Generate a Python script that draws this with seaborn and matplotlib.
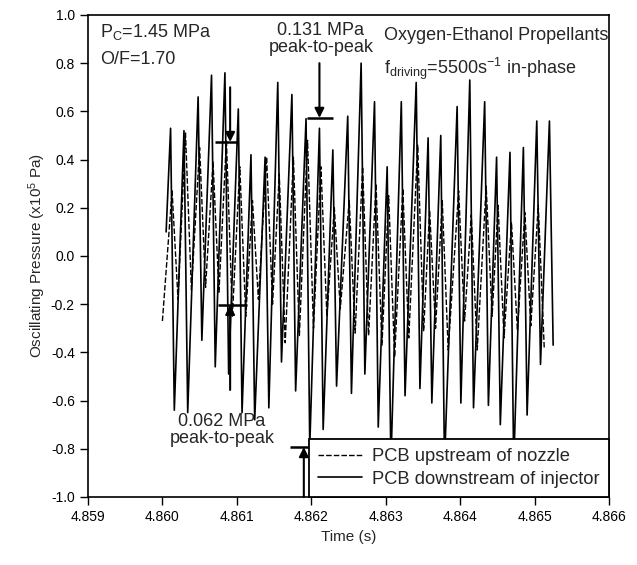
import numpy as np
import pandas as pd
import matplotlib
matplotlib.use("Agg")
import matplotlib.pyplot as plt
import seaborn as sns

# downstream of injector (solid) - peaks and the troughs right after them
solid_start_t = 4.86005
solid_start_p = 0.10
solid_peak_t = [4.86011, 4.86029, 4.86048, 4.86066, 4.86084, 4.86102, 4.86119, 4.86138,
                4.86155, 4.86174, 4.86193, 4.86211, 4.86229, 4.86249, 4.86267, 4.86285,
                4.86302, 4.86321, 4.86341, 4.86357, 4.86374, 4.86396, 4.86413, 4.86433,
                4.86449, 4.86467, 4.86485, 4.86503, 4.86520]
solid_peak_p = [0.53, 0.52, 0.66, 0.75, 0.76, 0.61, 0.42, 0.41, 0.72, 0.67, 0.57, 0.53,
                0.44, 0.58, 0.80, 0.64, 0.37, 0.64, 0.72, 0.49, 0.50, 0.62, 0.73, 0.64,
                0.41, 0.43, 0.45, 0.56, 0.56]
solid_trough_t = [4.86016, 4.86034, 4.86053, 4.86071, 4.86089, 4.86107, 4.86124, 4.86143,
                  4.86160, 4.86179, 4.86198, 4.86216, 4.86234, 4.86254, 4.86272, 4.86290,
                  4.86307, 4.86326, 4.86346, 4.86362, 4.86379, 4.86401, 4.86418, 4.86438,
                  4.86454, 4.86472, 4.86490, 4.86508, 4.86525]
solid_trough_p = [-0.64, -0.65, -0.35, -0.46, -0.49, -0.65, -0.68, -0.63, -0.44, -0.56,
                  -0.79, -0.72, -0.54, -0.57, -0.49, -0.71, -0.86, -0.58, -0.55, -0.61,
                  -0.86, -0.61, -0.63, -0.62, -0.70, -0.87, -0.66, -0.45, -0.37]

# upstream of nozzle (dashed)
dash_start_t = 4.86000
dash_start_p = -0.27
dash_peak_t = [4.86013, 4.86031, 4.86050, 4.86068, 4.86086, 4.86104, 4.86121, 4.86140,
               4.86157, 4.86176, 4.86195, 4.86213, 4.86231, 4.86251, 4.86269, 4.86287,
               4.86304, 4.86323, 4.86343, 4.86359, 4.86376, 4.86398, 4.86415, 4.86435,
               4.86451, 4.86469, 4.86487, 4.86505]
dash_peak_p = [0.27, 0.51, 0.45, 0.39, 0.48, 0.37, 0.23, 0.41, 0.34, 0.41, 0.48, 0.37,
               0.20, 0.23, 0.37, 0.30, 0.25, 0.28, 0.46, 0.19, 0.23, 0.27, 0.17, 0.29,
               0.21, 0.14, 0.18, 0.21]
dash_trough_t = [4.86021, 4.86039, 4.86058, 4.86076, 4.86094, 4.86112, 4.86129, 4.86148,
                 4.86165, 4.86184, 4.86203, 4.86221, 4.86239, 4.86259, 4.86277, 4.86295,
                 4.86312, 4.86331, 4.86351, 4.86367, 4.86384, 4.86406, 4.86423, 4.86443,
                 4.86459, 4.86477, 4.86495, 4.86513]
dash_trough_p = [-0.18, -0.14, -0.13, -0.15, -0.25, -0.25, -0.18, -0.20, -0.36, -0.33,
                 -0.30, -0.25, -0.22, -0.32, -0.33, -0.37, -0.42, -0.34, -0.31, -0.30,
                 -0.39, -0.27, -0.39, -0.25, -0.34, -0.31, -0.29, -0.38]

x_ticks = [4.859, 4.860, 4.861, 4.862, 4.863, 4.864, 4.865, 4.866]
y_ticks = [-1.0, -0.8, -0.6, -0.4, -0.2, 0.0, 0.2, 0.4, 0.6, 0.8, 1.0]


def build(start_t, start_p, pk_t, pk_p, tr_t, tr_p):
    t = [start_t]
    p = [start_p]
    for a, b, c, d in zip(pk_t, pk_p, tr_t, tr_p):
        t += [a, c]
        p += [b, d]
    return t, p


st, sp = build(solid_start_t, solid_start_p, solid_peak_t, solid_peak_p, solid_trough_t, solid_trough_p)
dt, dp = build(dash_start_t, dash_start_p, dash_peak_t, dash_peak_p, dash_trough_t, dash_trough_p)

df_up = pd.DataFrame({'time': dt, 'pressure': dp})
df_down = pd.DataFrame({'time': st, 'pressure': sp})

sns.set_theme(style='ticks')
plt.rcParams['font.family'] = ['Liberation Sans', 'DejaVu Sans']
plt.rcParams['mathtext.default'] = 'regular'

fig = plt.figure(figsize=(6.37, 5.65), dpi=100)
ax = fig.add_axes([0.1381, 0.1204, 0.8179, 0.8531])

sns.lineplot(data=df_up, x='time', y='pressure', ax=ax, sort=False, estimator=None,
             color='black', lw=1.0, linestyle=(0, (4, 1.5)), label='PCB upstream of nozzle')
sns.lineplot(data=df_down, x='time', y='pressure', ax=ax, sort=False, estimator=None,
             color='black', lw=1.2, label='PCB downstream of injector')

ax.set_xlim(4.859, 4.866)
ax.set_ylim(-1.0, 1.0)
ax.set_xticks(x_ticks)
ax.set_yticks(y_ticks)
ax.set_xticklabels(['%.3f' % v for v in x_ticks], fontsize=10)
ax.set_yticklabels(['%.1f' % v for v in y_ticks], fontsize=10)
ax.tick_params(direction='out', length=6, width=1, colors='black')
for s in ax.spines.values():
    s.set_visible(True)
    s.set_color('black')
    s.set_linewidth(1.2)
ax.set_xlabel('Time (s)', fontsize=11)
ax.set_ylabel('Oscillating Pressure (x10$^{5}$ Pa)', fontsize=11, labelpad=2)

fs = 13
# text notes
ax.text(0.023, 0.985, 'P$_{C}$=1.45 MPa', transform=ax.transAxes, fontsize=fs, va='top', ha='left')
ax.text(0.023, 0.925, 'O/F=1.70', transform=ax.transAxes, fontsize=fs, va='top', ha='left')
ax.text(4.86213, 0.985, '0.131 MPa\npeak-to-peak', fontsize=fs, va='top', ha='center',
        transform=ax.get_xaxis_transform(), linespacing=1.0)
ax.text(0.568, 0.975, 'Oxygen-Ethanol Propellants', transform=ax.transAxes, fontsize=fs,
        va='top', ha='left')
ax.text(0.568, 0.915, 'f$_{driving}$=5500s$^{-1}$ in-phase', transform=ax.transAxes, fontsize=fs,
        va='top', ha='left')
ax.text(4.86080, -0.65, '0.062 MPa\npeak-to-peak', fontsize=fs, va='top', ha='center',
        linespacing=1.0)

arrow = dict(arrowstyle='-|>', color='black', lw=1.5, mutation_scale=14, shrinkA=0, shrinkB=0)
# 0.131 MPa markers
ax.annotate('', xy=(4.86211, 0.573), xytext=(4.86211, 0.80), arrowprops=arrow)
ax.hlines(0.573, 4.86194, 4.86229, color='black', lw=1.8)
ax.annotate('', xy=(4.86190, -0.793), xytext=(4.86190, -1.0), arrowprops=arrow)
ax.hlines(-0.793, 4.86171, 4.86209, color='black', lw=1.8)
# 0.062 MPa markers
ax.annotate('', xy=(4.86091, 0.473), xytext=(4.86091, 0.70), arrowprops=arrow)
ax.hlines(0.473, 4.86071, 4.86102, color='black', lw=1.8)
ax.annotate('', xy=(4.86091, -0.203), xytext=(4.86091, -0.556), arrowprops=arrow)
ax.hlines(-0.203, 4.86075, 4.86114, color='black', lw=1.8)

leg = ax.legend(loc='lower right', borderaxespad=0, fontsize=13.2, frameon=True, fancybox=False,
                handlelength=2.4, handletextpad=0.55, labelspacing=0.3, borderpad=0.5)
leg.get_frame().set_edgecolor('black')
leg.get_frame().set_linewidth(1.3)
leg.get_frame().set_alpha(1)

fig.savefig('out.png', dpi=100)
